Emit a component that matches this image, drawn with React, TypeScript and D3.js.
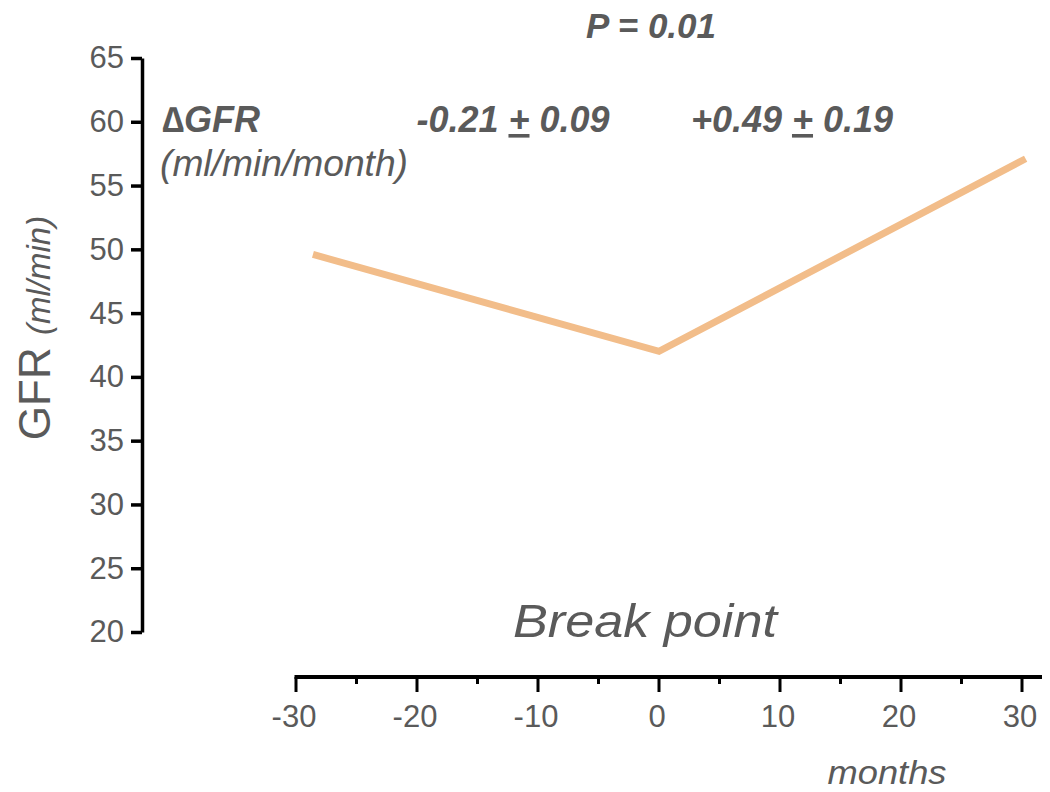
import React, { useEffect, useRef } from "react";
import * as d3 from "d3";

const months = [-28.6, 0, 30.3];
const gfr = [49.6, 42.0, 57.1];
const yTicks = [20, 25, 30, 35, 40, 45, 50, 55, 60, 65];
const xMajorTicks = [-30, -20, -10, 0, 10, 20, 30];
const xMinorTicks = [-25, -15, -5, 5, 15, 25];
const slopeLabels = ["-0.21", "+0.49"];
const slopeErrors = ["0.09", "0.19"];
const pLabel = "P = 0.01";

const W = 1050;
const H = 792;
const GREY = "#5a5a5a";
const FONT = "'Liberation Sans', Arial, sans-serif";

export default function App() {
  const ref = useRef<SVGSVGElement>(null);

  useEffect(() => {
    const svg = d3.select(ref.current);
    svg.selectAll("*").remove();

    const y = d3.scaleLinear().domain([20, 65]).range([632, 58]);
    const x = d3.scaleLinear().domain([-30, 30]).range([296, 1022]);

    // Y axis
    const yAxis = svg.append("g").attr("transform", "translate(142,0)");
    yAxis
      .call(d3.axisLeft(y).tickValues(yTicks).tickSize(11).tickSizeOuter(0).tickPadding(7))
      .call((g) => g.select(".domain").attr("stroke", "#000").attr("stroke-width", 3.5))
      .call((g) => g.selectAll(".tick line").attr("stroke", "#000").attr("stroke-width", 3.5))
      .call((g) =>
        g
          .selectAll(".tick text")
          .attr("fill", GREY)
          .attr("font-size", 31)
          .attr("font-family", FONT)
      );

    // X axis
    const xAxis = svg.append("g").attr("transform", "translate(0,677)");
    xAxis
      .append("line")
      .attr("x1", x(-30) - 1.5)
      .attr("x2", W)
      .attr("y1", 0)
      .attr("y2", 0)
      .attr("stroke", "#000")
      .attr("stroke-width", 4);
    xAxis
      .selectAll(".major")
      .data(xMajorTicks)
      .join("line")
      .attr("x1", (d) => x(d))
      .attr("x2", (d) => x(d))
      .attr("y1", 0)
      .attr("y2", 15)
      .attr("stroke", "#000")
      .attr("stroke-width", 3);
    xAxis
      .selectAll(".minor")
      .data(xMinorTicks)
      .join("line")
      .attr("x1", (d) => x(d))
      .attr("x2", (d) => x(d))
      .attr("y1", 0)
      .attr("y2", 7)
      .attr("stroke", "#000")
      .attr("stroke-width", 3);
    xAxis
      .selectAll(".lbl")
      .data(xMajorTicks)
      .join("text")
      .attr("x", (d) => x(d) - 2)
      .attr("y", 50)
      .attr("text-anchor", "middle")
      .attr("fill", GREY)
      .attr("font-size", 31)
      .attr("font-family", FONT)
      .text((d) => String(d));

    // Line
    const pts = months.map((m, i) => [m, gfr[i]] as [number, number]);
    svg
      .append("path")
      .datum(pts)
      .attr("fill", "none")
      .attr("stroke", "#f2bd8a")
      .attr("stroke-width", 7)
      .attr("stroke-linejoin", "miter")
      .attr(
        "d",
        d3
          .line<[number, number]>()
          .x((d) => x(d[0]))
          .y((d) => y(d[1]))
      );

    // Y label
    const yl = svg
      .append("text")
      .attr("transform", "translate(50,328) rotate(-90)")
      .attr("text-anchor", "middle")
      .attr("fill", GREY)
      .attr("font-family", FONT);
    yl.append("tspan").attr("font-size", 44).text("GFR ");
    yl.append("tspan").attr("font-size", 33).attr("font-style", "italic").text("(ml/min)");

    // Annotations
    const t = (
      tx: number,
      ty: number,
      size: number,
      txt: string,
      bold: boolean,
      anchor = "start",
      len?: number
    ) => {
      const el = svg
        .append("text")
        .attr("x", tx)
        .attr("y", ty)
        .attr("font-size", size)
        .attr("font-style", "italic")
        .attr("font-weight", bold ? "bold" : "normal")
        .attr("text-anchor", anchor)
        .attr("fill", GREY)
        .attr("font-family", FONT)
        .text(txt);
      if (len) el.attr("textLength", len).attr("lengthAdjust", "spacingAndGlyphs");
      return el;
    };

    t(651, 38, 35, pLabel, true, "middle");
    t(162, 132, 36, "\u2206GFR", true);
    t(160, 176, 36, "(ml/min/month)", false, "start", 248);

    const slopeX = [513, 792];
    slopeLabels.forEach((s, i) => {
      const el = svg
        .append("text")
        .attr("x", slopeX[i])
        .attr("y", 132)
        .attr("font-size", 36)
        .attr("font-style", "italic")
        .attr("font-weight", "bold")
        .attr("text-anchor", "middle")
        .attr("fill", GREY)
        .attr("font-family", FONT);
      el.append("tspan").text(s + " ");
      el.append("tspan").attr("text-decoration", "underline").text("+");
      el.append("tspan").text(" " + slopeErrors[i]);
    });

    t(645, 637, 47, "Break point", false, "middle", 264);
    t(887, 784, 34, "months", false, "middle", 119);
  }, []);

  return <svg ref={ref} width={W} height={H} style={{ display: "block", margin: -8 }} />;
}
